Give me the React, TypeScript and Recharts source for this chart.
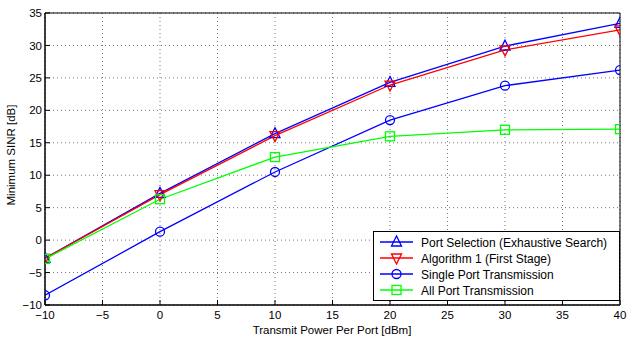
import React from "react"
import { LineChart, Line, XAxis, YAxis, CartesianGrid, ReferenceArea } from "recharts"

const powers = [-10, 0, 10, 20, 30, 40]
const portSelection = [-2.8, 7.2, 16.4, 24.3, 29.9, 33.4]
const algorithm1 = [-2.8, 7.0, 16.1, 23.9, 29.3, 32.4]
const singlePort = [-8.5, 1.3, 10.5, 18.5, 23.8, 26.2]
const allPort = [-2.9, 6.3, 12.8, 16.0, 17.0, 17.1]

const xTicks = [-10, -5, 0, 5, 10, 15, 20, 25, 30, 35, 40]
const yTicks = [-10, -5, 0, 5, 10, 15, 20, 25, 30, 35]

type MarkerKind = "up" | "down" | "circle" | "square"

type SeriesConfig = {
  key: string
  label: string
  color: string
  marker: MarkerKind
}

const series: SeriesConfig[] = [
  { key: "portSelection", label: "Port Selection (Exhaustive Search)", color: "#0000ff", marker: "up" },
  { key: "algorithm1", label: "Algorithm 1 (First Stage)", color: "#ff0000", marker: "down" },
  { key: "singlePort", label: "Single Port Transmission", color: "#0000ff", marker: "circle" },
  { key: "allPort", label: "All Port Transmission", color: "#00ff00", marker: "square" },
]

const data = powers.map((p, i) => ({
  power: p,
  portSelection: portSelection[i],
  algorithm1: algorithm1[i],
  singlePort: singlePort[i],
  allPort: allPort[i],
}))

const FONT = "'Liberation Sans', Arial, Helvetica, sans-serif"
const fmt = (v: number) => (v < 0 ? "\u2212" + Math.abs(v) : String(v))

function Marker({ cx, cy, kind, color }: { cx: number; cy: number; kind: MarkerKind; color: string }) {
  const s = 5
  if (kind === "circle") {
    return <circle cx={cx} cy={cy} r={4.5} fill="none" stroke={color} strokeWidth={1.3} />
  }
  if (kind === "square") {
    return <rect x={cx - 4.5} y={cy - 4.5} width={9} height={9} fill="none" stroke={color} strokeWidth={1.3} />
  }
  if (kind === "up") {
    return (
      <polygon
        points={`${cx},${cy - s - 1} ${cx - s},${cy + s - 1} ${cx + s},${cy + s - 1}`}
        fill="none"
        stroke={color}
        strokeWidth={1.3}
      />
    )
  }
  return (
    <polygon
      points={`${cx},${cy + s + 1} ${cx - s},${cy - s + 1} ${cx + s},${cy - s + 1}`}
      fill="none"
      stroke={color}
      strokeWidth={1.3}
    />
  )
}

function makeDot(cfg: SeriesConfig) {
  return (props: any) => {
    const { cx, cy, index } = props
    if (cx == null || cy == null) return <g key={index} />
    return <Marker key={index} cx={cx} cy={cy} kind={cfg.marker} color={cfg.color} />
  }
}

function LegendBox() {
  return (
    <svg width={247} height={70} style={{ display: "block" }}>
      <rect x={0.5} y={0.5} width={246} height={69} fill="#fff" stroke="#000" strokeWidth={1} />
      {series.map((s, i) => {
        const y = 11 + i * 16
        return (
          <g key={s.key}>
            <line x1={7} x2={40} y1={y} y2={y} stroke={s.color} strokeWidth={1.3} />
            <Marker cx={23.5} cy={y} kind={s.marker} color={s.color} />
            <text x={48} y={y + 4.5} fontSize={12} fontFamily={FONT} fill="#000">
              {s.label}
            </text>
          </g>
        )
      })}
    </svg>
  )
}

export default function App() {
  return (
    <div style={{ position: "absolute", left: 0, top: 0, width: 628, height: 337, background: "#fff" }}>
      <LineChart width={628} height={337} data={data} margin={{ top: 13, right: 8, bottom: 0, left: 0 }}>
        <CartesianGrid stroke="#777" strokeDasharray="1 3" strokeWidth={1} />
        <XAxis
          dataKey="power"
          type="number"
          domain={[-10, 40]}
          ticks={xTicks}
          height={32}
          tickSize={-5}
          tickMargin={11}
          stroke="#000"
          tickFormatter={fmt}
          tick={{ fontSize: 11.5, fontFamily: FONT, fill: "#000" }}
          interval={0}
          allowDataOverflow
        />
        <YAxis
          type="number"
          domain={[-10, 35]}
          ticks={yTicks}
          width={45}
          tickSize={-5}
          tickMargin={8}
          stroke="#000"
          tickFormatter={fmt}
          tick={{ fontSize: 11.5, fontFamily: FONT, fill: "#000" }}
          interval={0}
          allowDataOverflow
        />
        <ReferenceArea
          x1={-10}
          x2={40}
          y1={-10}
          y2={35}
          fill="none"
          fillOpacity={0}
          stroke="#000"
          strokeWidth={1}
          strokeOpacity={1}
          ifOverflow="visible"
        />
        {series.map((s) => (
          <Line
            key={s.key}
            dataKey={s.key}
            stroke={s.color}
            strokeWidth={1.3}
            dot={makeDot(s)}
            activeDot={false}
            isAnimationActive={false}
            type="linear"
          />
        ))}
        <text x={332} y={334} textAnchor="middle" fontSize={11.5} fontFamily={FONT} fill="#000">
          Transmit Power Per Port [dBm]
        </text>
        <text
          x={15}
          y={155}
          textAnchor="middle"
          fontSize={11.5}
          fontFamily={FONT}
          fill="#000"
          transform="rotate(-90 15 155)"
        >
          Minimum SINR [dB]
        </text>
      </LineChart>
      <div style={{ position: "absolute", left: 373, top: 231 }}>
        <LegendBox />
      </div>
    </div>
  )
}
